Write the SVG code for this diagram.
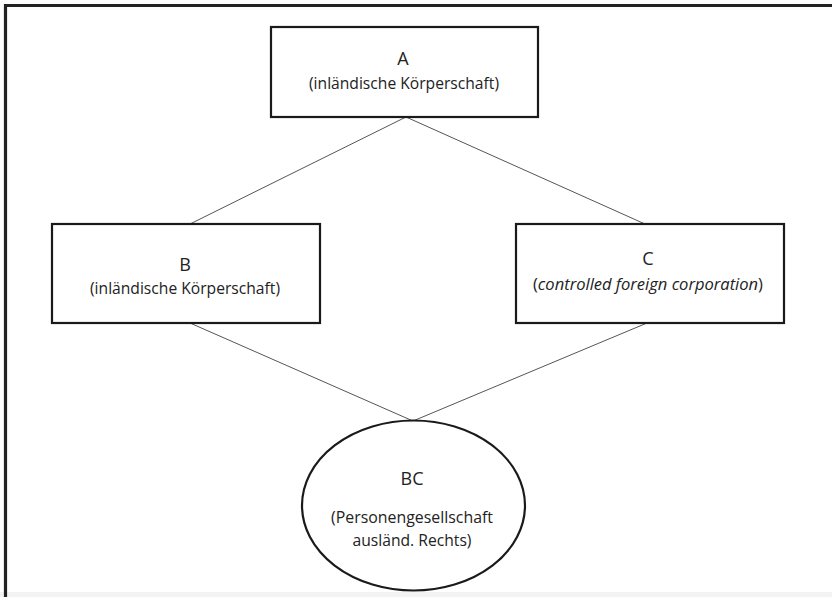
<svg xmlns="http://www.w3.org/2000/svg" width="832" height="597" viewBox="0 0 832 597">
<style>
.box{fill:#fff;stroke:#1a1a1a;stroke-width:2.2}
.conn{stroke:#555;stroke-width:1;fill:none}
.t{font-family:"Open Sans","Noto Sans","Liberation Sans",sans-serif;fill:#222;text-anchor:middle}
.big{font-size:18px}
.sub{font-size:15.5px}
</style>
<rect x="0" y="0" width="832" height="597" fill="#fff"/>
<rect x="0" y="592" width="832" height="5" fill="#f3f3f3"/>
<path d="M5.5,597 V5.5 H832" fill="none" stroke="#222" stroke-width="3.2"/>
<g id="connectors">
<line class="conn" x1="406" y1="117" x2="190" y2="224"/>
<line class="conn" x1="406" y1="117" x2="645" y2="224"/>
<line class="conn" x1="190" y1="323" x2="413" y2="421"/>
<line class="conn" x1="647" y1="323" x2="413" y2="421"/>
</g>
<g id="A">
<rect class="box" x="271" y="27" width="267" height="90"/>
<text class="t big" x="403" y="65">A</text>
<text class="t sub" x="404" y="89" textLength="190" lengthAdjust="spacingAndGlyphs">(inländische Körperschaft)</text>
</g>
<g id="B">
<rect class="box" x="52" y="224" width="268" height="99"/>
<text class="t big" x="185" y="271">B</text>
<text class="t sub" x="185" y="294" textLength="190" lengthAdjust="spacingAndGlyphs">(inländische Körperschaft)</text>
</g>
<g id="C">
<rect class="box" x="516" y="224" width="268" height="99"/>
<text class="t big" x="648" y="265">C</text>
<text class="t sub" x="648" y="290" textLength="230" lengthAdjust="spacingAndGlyphs">(<tspan font-style="italic">controlled foreign corporation</tspan>)</text>
</g>
<g id="BC">
<ellipse class="box" cx="413.5" cy="505.5" rx="111.5" ry="85"/>
<text class="t big" x="412" y="485">BC</text>
<text class="t sub" x="412" y="523" textLength="162" lengthAdjust="spacingAndGlyphs">(Personengesellschaft</text>
<text class="t sub" x="412" y="546" textLength="119" lengthAdjust="spacingAndGlyphs">ausländ. Rechts)</text>
</g>
</svg>
